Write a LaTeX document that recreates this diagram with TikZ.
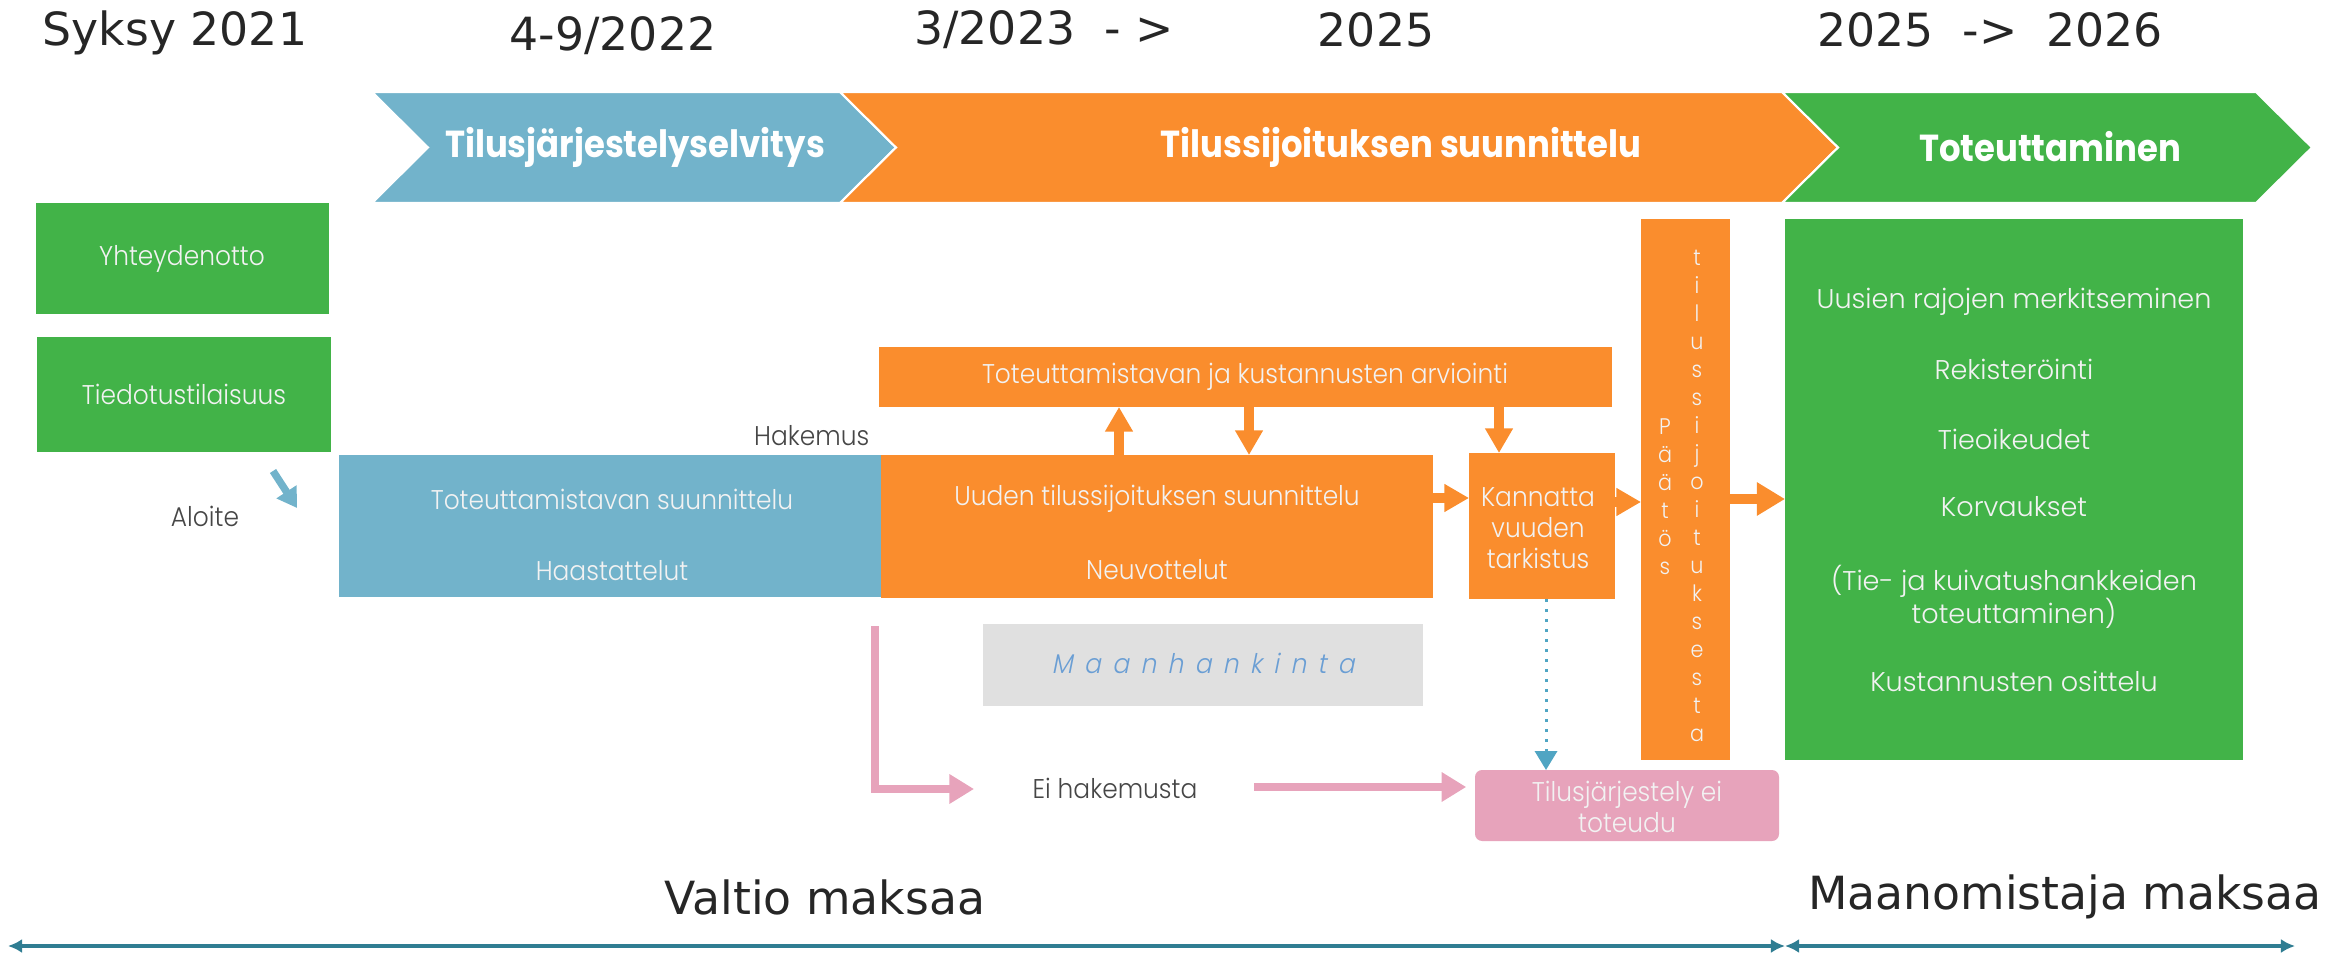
\documentclass[tikz,border=0pt]{standalone}
\usepackage{fontspec}
\setmainfont{DejaVu Sans}
\newfontfamily\gothic{Poppins Light}[FakeStretch=0.92]
\newfontfamily\gothicwide{Poppins Light}[FakeStretch=1.0]
\newfontfamily\chevfont{Poppins}[FakeStretch=0.9]
\newfontfamily\gothicspaced{Poppins Light}[FakeStretch=0.92, FakeSlant=0.2, LetterSpace=42]
\usetikzlibrary{arrows.meta}
\usetikzlibrary{fit}

\definecolor{tblue}{RGB}{114,179,203}
\definecolor{torange}{RGB}{250,141,45}
\definecolor{tgreen}{RGB}{66,179,72}
\definecolor{tpink}{RGB}{231,163,187}
\definecolor{tgray}{RGB}{224,224,224}
\definecolor{tteal}{RGB}{47,125,146}
\definecolor{tdot}{RGB}{80,165,195}
\definecolor{tmaan}{RGB}{106,158,212}
\definecolor{ttext}{RGB}{38,38,38}
\definecolor{tlabel}{RGB}{70,70,70}
\definecolor{tinside}{RGB}{242,242,242}

\begin{document}
\begin{tikzpicture}[x=0.01cm, y=-0.01cm,
  box/.style={inner sep=0pt, outer sep=0pt},
  boxtext/.style={font=\gothic\fontsize{7.7}{8.8}\selectfont, text=tinside, align=center, inner sep=0pt},
  greentext/.style={boxtext, font=\gothicwide\fontsize{7.7}{9.4}\selectfont},
  title/.style={font=\fontsize{13}{15}\selectfont, text=ttext},
  chev/.style={draw=white, line width=0.6pt},
  chevtext/.style={font=\chevfont\bfseries\fontsize{10.7}{12}\selectfont, text=white},
  lbl/.style={font=\gothic\fontsize{7.7}{8.8}\selectfont, text=tlabel, inner sep=0pt},
  oarr/.style={torange, line width=2.6pt, -{Triangle[width=7.5pt,length=7pt]}},
  parr/.style={tpink, line width=2.4pt, -{Triangle[width=8pt,length=7pt]}},
  barr/.style={tblue, line width=2.1pt, -{Triangle[width=6.5pt,length=5.5pt]}},
  darr/.style={tdot, line width=0.85pt, dotted, -{Triangle[width=6.3pt,length=5.4pt]}},
  tarr/.style={tteal, line width=1pt, {Latex[width=4pt,length=4pt]}-{Latex[width=4pt,length=4pt]}}
]
\useasboundingbox (0,0) rectangle (2352,955);

\node[title] (t1) at (175,33) {Syksy 2021};
\node[title] (t2) at (613,36) {4-9/2022};
\node[title] (t3) at (1044,30) {3/2023\ \ - >};
\node[title] (t4) at (1376,30) {2025};
\node[title] (t5) at (1990,30) {2025\ \ ->\ \ 2026};

\path[fill=tblue, chev] (372,92) -- (840,92) -- (896,147.5) -- (840,203) -- (372,203) -- (428,147.5) -- cycle;
\path[fill=torange, chev] (840,92) -- (1782,92) -- (1838,147.5) -- (1782,203) -- (840,203) -- (896,147.5) -- cycle;
\path[fill=tgreen, chev] (1782,92) -- (2256,92) -- (2312,147.5) -- (2256,203) -- (1782,203) -- (1838,147.5) -- cycle;
\node[chevtext] (c1) at (635,147) {Tilusjärjestelyselvitys};
\node[chevtext] (c2) at (1401,147) {Tilussijoituksen suunnittelu};
\node[chevtext] (c3) at (2050,147) {Toteuttaminen};

\node[box, fill=tgreen, fit={(36,203) (329,314)}] (yht) {};
\node[boxtext] at (182,259) {Yhteydenotto};
\node[box, fill=tgreen, fit={(37,337) (331,452)}] (tied) {};
\node[boxtext] at (184,394) {Tiedotustilaisuus};

\node[box, fill=tblue, fit={(339,455) (881,597)}] (suun) {};
\node[boxtext] (suun1) at (612,499) {Toteuttamistavan suunnittelu};
\node[boxtext] (suun2) at (612,571) {Haastattelut};
\node[box, fill=torange, fit={(881,455) (1433,598)}] (uusi) {};
\node[boxtext] (uusi1) at (1157,499) {Uuden tilussijoituksen suunnittelu};
\node[boxtext] (uusi2) at (1157,570) {Neuvottelut};
\node[box, fill=torange, fit={(879,347) (1612,407)}] (arvio) {};
\node[boxtext] at (1245,377) {Toteuttamistavan ja kustannusten arviointi};
\node[box, fill=torange, fit={(1469,453) (1615,599)}] (kann) {};
\node[boxtext] at (1538,528) {Kannatta\\vuuden\\tarkistus};
\node[box, fill=torange, fit={(1641,219) (1730,760)}] (paatos) {};
\node[boxtext, font=\gothic\fontsize{6.4}{7.97}\selectfont] (pa1) at (1665,496.5) {P\\ä\\ä\\t\\ö\\s};
\node[boxtext, font=\gothic\fontsize{6.4}{7.97}\selectfont] (pa2) at (1697,496) {t\\i\\l\\u\\s\\s\\i\\j\\o\\i\\t\\u\\k\\s\\e\\s\\t\\a};
\node[box, fill=tgreen, fit={(1785,219) (2243,760)}] (tot) {};
\node[greentext] (g1) at (2014,302) {Uusien rajojen merkitseminen};
\node[greentext] (g2) at (2014,369) {Rekisteröinti};
\node[greentext] (g3) at (2014,439) {Tieoikeudet};
\node[greentext] (g4) at (2014,507) {Korvaukset};
\node[greentext] (g5) at (2014,596.5) {(Tie- ja kuivatushankkeiden\\toteuttaminen)};
\node[greentext] (g6) at (2014,681) {Kustannusten osittelu};

\node[box, fill=tgray, fit={(983,624) (1423,706)}] (maan) {};
\node[font=\gothicspaced\fontsize{7.7}{9}\selectfont, text=tmaan] (maant) at (1203,663) {Maanhankinta};
\node[box, fill=tpink, rounded corners=2pt, fit={(1475,770) (1779,841)}] (eitot) {};
\node[boxtext, font=\gothic\fontsize{7.7}{8.8}\selectfont] at (1627,807) {Tilusjärjestely ei\\toteudu};

\node[lbl, anchor=east] (hak) at (870,436) {Hakemus};
\node[lbl] (alo) at (205,516) {Aloite};
\node[lbl] (ehk) at (1115,788) {Ei hakemusta};

\draw[oarr] (1119,0 |- uusi.north) -- (1119,0 |- arvio.south);
\draw[oarr] (1249,0 |- arvio.south) -- (1249,0 |- uusi.north);
\draw[oarr] (1499,0 |- arvio.south) -- (1499,0 |- kann.north);
\draw[oarr] (uusi.east |- 0,498) -- (kann.west |- 0,498);
\draw[oarr] (kann.east |- 0,502) -- (paatos.west |- 0,502);
\draw[oarr, line width=3pt, -{Triangle[width=9pt,length=8pt]}] (paatos.east |- 0,499) -- (tot.west |- 0,499);
\draw[darr] (1546,0 |- kann.south) -- (1546,0 |- eitot.north);

\coordinate (al1) at (273,471);
\coordinate (al2) at (297,508);
\draw[barr] (al1) -- (al2);

\coordinate (pk1) at (875,626);
\coordinate (pk2) at (974,789);
\coordinate (pk3) at (1254,787);
\draw[parr] (pk1) |- (pk2);
\draw[parr, shorten >=2.5pt] (pk3) -- (eitot.west |- pk3);

\node[title] (v1) at (825,897) {Valtio maksaa};
\node[title] (v2) at (2065,897) {Maanomistaja maksaa};
\coordinate (b0) at (8,946);
\coordinate (b1) at (1785,946);
\coordinate (b2) at (2295,946);
\draw[tarr] (b0) -- (b1);
\draw[tarr] (b1) -- (b2);
\end{tikzpicture}
\end{document}
